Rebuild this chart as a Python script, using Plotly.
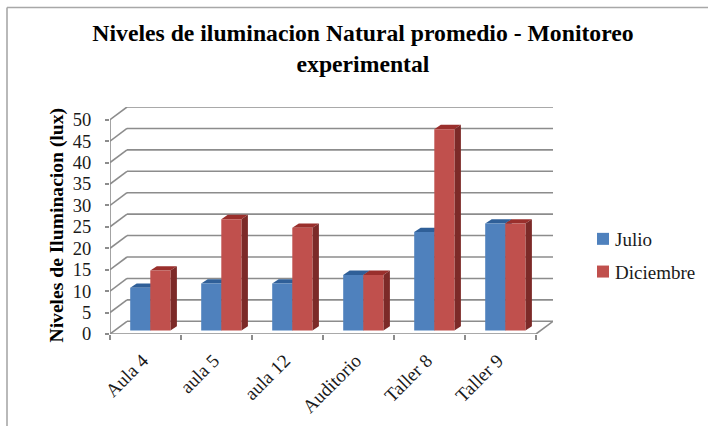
import plotly.graph_objects as go

categories = ["Aula 4", "aula 5", "aula 12", "Auditorio", "Taller 8", "Taller 9"]
julio = [10, 11, 11, 13, 23, 25]
diciembre = [14, 26, 24, 13, 47, 25]
y_ticks = list(range(0, 55, 5))

W, H = 708, 426
FONT = "Liberation Serif"
TEXT = "#1a1a1a"
GRID = "#8c8c8c"

# Pixel frame of the pseudo-3D box
L, R, T, B = 110, 553, 107.3, 333.7
CAT_W = 71.0
PX_Y = 4.28
wall_dx = 17 / CAT_W          # box depth in category units
wall_dy = 12.7 / PX_Y         # box depth in value units
bar_dx = 6.5 / CAT_W          # bar depth
bar_dy = 4.3 / PX_Y
gap_dx = 4.8 / CAT_W          # gap from front of the box to the bars
gap_dy = 3.4 / PX_Y
bar_w = 20.1 / CAT_W
n = len(categories)
x_max = n + wall_dx
y_max = 50 + wall_dy


def paper_x(px):
    return (px - L) / (W - L)


def paper_y(py):
    return (B - py) / (B - T)


shapes = []


def line(x0, y0, x1, y1, width=1.6, color=GRID):
    shapes.append(dict(type="line", xref="x", yref="y", x0=x0, y0=y0, x1=x1, y1=y1,
                       layer="below", line=dict(color=color, width=width)))


def poly(points, color):
    path = "M" + "L".join(f"{px},{py}" for px, py in points) + "Z"
    shapes.append(dict(type="path", xref="x", yref="y", path=path, layer="below",
                       fillcolor=color, line=dict(width=0)))


for t in y_ticks:
    line(wall_dx, t + wall_dy, x_max, t + wall_dy)
    line(0, t, wall_dx, t + wall_dy)
line(0, 0, 0, 50)
line(0, 0, n, 0)
line(n, 0, x_max, wall_dy)

blue_x, red_x = [], []
for i in range(n):
    x0 = i + 0.5 - bar_w + gap_dx
    blue_x.append(x0)
    red_x.append(x0 + bar_w)


def faces(xs, vals, top_c, side_c):
    for x0, v in zip(xs, vals):
        b = gap_dy
        top = b + v
        x1 = x0 + bar_w
        poly([(x0, top), (x1, top), (x1 + bar_dx, top + bar_dy), (x0 + bar_dx, top + bar_dy)], top_c)
        poly([(x1, b), (x1, top), (x1 + bar_dx, top + bar_dy), (x1 + bar_dx, b + bar_dy)], side_c)


faces(blue_x, julio, "#2f5f98", "#2c4d75")
faces(red_x, diciembre, "#9a2f2c", "#7c2a28")

# chart frame, left and top edges
for (px0, py0, px1, py1) in [(7, 8, 7, H), (7, 8, W, 8)]:
    shapes.append(dict(type="line", xref="paper", yref="paper",
                       x0=paper_x(px0), y0=paper_y(py0), x1=paper_x(px1), y1=paper_y(py1),
                       layer="below", line=dict(color="#a8a8a8", width=1.6)))

fig = go.Figure()
fig.add_bar(name="Julio", x=blue_x, y=julio, base=gap_dy, width=bar_w, offset=0,
            marker=dict(color="#4f81bd", line=dict(width=0)), legendgroup="a")
fig.add_bar(name="Diciembre", x=red_x, y=diciembre, base=gap_dy, width=bar_w, offset=0,
            marker=dict(color="#c0504d", line=dict(width=0)), legendgroup="b")

fig.update_layout(
    width=W, height=H, autosize=False,
    margin=dict(l=L, r=0, t=T, b=H - B, pad=0),
    paper_bgcolor="white", plot_bgcolor="rgba(0,0,0,0)",
    barmode="overlay", shapes=shapes,
    font=dict(family=FONT, color=TEXT, size=18),
    title=dict(text="Niveles de iluminacion Natural promedio - Monitoreo<br>experimental",
               x=363 / W, xanchor="center", y=1 - 41 / H, yanchor="top",
               font=dict(family=FONT, size=23.7, color="#000000", weight=700)),
    xaxis=dict(domain=[0, (R - L) / (W - L)], range=[0, x_max], tickmode="array",
               tickvals=[i + 0.46 for i in range(n)],
               ticktext=categories, ticks="outside", ticklen=7, tickcolor="rgba(0,0,0,0)",
               tickangle=-45, showgrid=False, zeroline=False,
               showline=False, tickfont=dict(size=19),
               minor=dict(tickmode="array", tickvals=list(range(n + 1)), ticks="outside",
                          ticklen=5, tickcolor=GRID, tickwidth=1.5, showgrid=False)),
    yaxis=dict(range=[0, y_max], tickmode="array", tickvals=y_ticks, ticks="outside",
               ticklen=14, tickcolor="rgba(0,0,0,0)", showgrid=False, zeroline=False,
               showline=False, tickfont=dict(size=18.5),
               minor=dict(tickmode="array", tickvals=y_ticks, ticks="outside",
                          ticklen=4, tickcolor=GRID, tickwidth=1.5, showgrid=False)),
    annotations=[dict(text="Niveles de Iluminacion (lux)", textangle=-90, showarrow=False,
                      xref="paper", yref="paper", x=paper_x(57), y=paper_y(225.5),
                      xanchor="center", yanchor="middle",
                      font=dict(family=FONT, size=19.6, color="#000000", weight=700))],
    legend=dict(x=paper_x(575), xanchor="left", y=paper_y(220), yanchor="top",
                font=dict(size=19), bgcolor="rgba(0,0,0,0)", tracegroupgap=5),
    showlegend=True,
)
fig.write_html(
    "out.html", config={"displayModeBar": False},
    post_script=(
        "document.body.style.margin='0';document.documentElement.style.overflow='hidden';"
        "document.querySelectorAll('.legend .legendsymbols').forEach(function(g){"
        "g.setAttribute('transform','translate(8,0)');});"
    ),
)
